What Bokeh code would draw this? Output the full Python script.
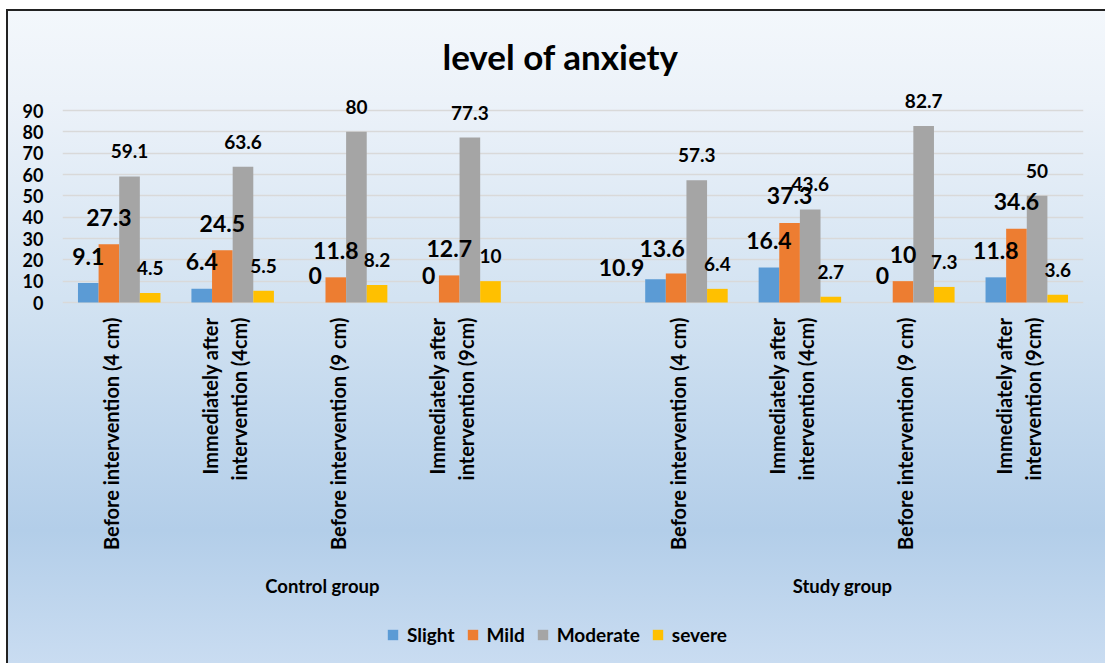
import math
from bokeh.plotting import figure
from bokeh.models import (ColumnDataSource, FactorRange, FixedTicker, Range1d,
                          Legend, LegendItem)
from bokeh.transform import dodge
from bokeh.core.properties import value
from bokeh.embed import file_html
from bokeh.resources import INLINE

# ---------------- data ----------------
title = "level of anxiety"
groups = ["Control group", "Study group"]
phases = [
    "Before intervention (4 cm)",
    "Immediately after\nintervention (4cm)",
    "Before intervention (9 cm)",
    "Immediately after\nintervention (9cm)",
]
series_names = ["Slight", "Mild", "Moderate", "severe"]
slight = [9.1, 6.4, 0, 0, 10.9, 16.4, 0, 11.8]
mild = [27.3, 24.5, 11.8, 12.7, 13.6, 37.3, 10, 34.6]
moderate = [59.1, 63.6, 80, 77.3, 57.3, 43.6, 82.7, 50]
severe = [4.5, 5.5, 8.2, 10, 6.4, 2.7, 7.3, 3.6]
y_ticks = [0, 10, 20, 30, 40, 50, 60, 70, 80, 90]

# ---------------- style / layout ----------------
colors = ["#5B9BD5", "#ED7D31", "#A5A5A5", "#FFC000"]
label_sizes = ["23px", "23px", "19px", "19px"]
label_lift = [-27, -27, -25, -25]
# hand-moved data labels in the original: (series, index) -> (dx, dy) px
label_nudges = {("Slight", 4): (-34, 15), ("Mild", 4): (-14, 2)}
FONT = value("Lato")
TEXT_COLOR = "#000000"

W, H = 1105, 663
PAGE = 0
FRAME_L, FRAME_R = 62, 1083
FRAME_T, FRAME_B = 12, 663
ZERO_Y, TOP_Y = 302, 110          # page y of value 0 and of value 90
px_per_unit = (ZERO_Y - TOP_Y) / 90.0
y_start = -(FRAME_B - ZERO_Y) / px_per_unit
y_end = (ZERO_Y - FRAME_T) / px_per_unit
n_slots = 9
slot_px = (FRAME_R - FRAME_L) / n_slots
bar_w = 0.1818
offsets = [-1.5 * bar_w, -0.5 * bar_w, 0.5 * bar_w, 1.5 * bar_w]

factors = [(g, ph) for g in groups for ph in phases]
x_range = FactorRange(*factors, factor_padding=0.0, group_padding=1.0,
                      range_padding=0.0)

p = figure(width=W, height=H, x_range=x_range, y_range=Range1d(y_start, y_end),
           x_axis_location=None, y_axis_location="left",
           min_border_left=FRAME_L - PAGE, min_border_right=PAGE + W - FRAME_R,
           min_border_top=FRAME_T - PAGE, min_border_bottom=PAGE + H - FRAME_B,
           output_backend="svg", toolbar_location=None)

p.background_fill_color = None
p.border_fill_color = None
p.outline_line_color = None
p.styles = {
    "background-image": ("linear-gradient(to bottom, #f4f8fc 0%, #ecf2f9 15%, "
                         "#d3e3f2 45%, #b3cee9 80%, #c9dcf1 100%)"),
    "box-shadow": "inset 6px 9px 0 0 #ffffff, inset 8px 11px 0 0 #222222",
}

ticker = FixedTicker(ticks=y_ticks)
p.yaxis.ticker = ticker
p.yaxis.axis_line_color = None
p.yaxis.major_tick_line_color = None
p.yaxis.minor_tick_line_color = None
p.yaxis.major_tick_in = 0
p.yaxis.major_tick_out = 0
p.yaxis.major_label_standoff = 19
p.yaxis.major_label_text_font = "Lato"
p.yaxis.major_label_text_font_style = "bold"
p.yaxis.major_label_text_font_size = "18px"
p.yaxis.major_label_text_color = TEXT_COLOR
p.ygrid.ticker = ticker
p.ygrid.grid_line_color = "#d9d9d9"
p.ygrid.grid_line_width = 1.5
p.xgrid.grid_line_color = None

series_values = {"Slight": slight, "Mild": mild, "Moderate": moderate, "severe": severe}
data = dict(x=factors, phase=[ph for g in groups for ph in phases])
for name, vals in series_values.items():
    data[name] = vals
    data[name + "_lbl"] = [f"{v:g}" for v in vals]
    data[name + "_dx"] = [label_nudges.get((name, k), (0, 0))[0] for k in range(len(vals))]
    data[name + "_dy"] = [label_nudges.get((name, k), (0, 0))[1] for k in range(len(vals))]
src = ColumnDataSource(data)

items = []
for i, name in enumerate(series_names):
    r = p.vbar(x=dodge("x", offsets[i], range=p.x_range), top=name, bottom=0,
               width=bar_w, source=src, fill_color=colors[i], line_color=None)
    items.append(LegendItem(label=name, renderers=[r]))
for i, name in enumerate(series_names):
    src.data[name + "_oy"] = [label_lift[i] + d for d in src.data[name + "_dy"]]
    p.text(x=dodge("x", offsets[i], range=p.x_range), y=name, text=name + "_lbl",
           source=src, text_align="center", text_baseline="middle",
           x_offset=name + "_dx", y_offset=name + "_oy",
           text_font=FONT, text_font_style="bold",
           text_font_size=label_sizes[i], text_color=TEXT_COLOR)

# category labels (rotated)
p.text(x="x", y=0, text="phase", source=src, angle=math.pi / 2,
       text_align="right", text_baseline="middle", x_offset=-8, y_offset=15,
       text_font=FONT, text_font_style="bold", text_font_size="20px",
       text_line_height=1.2, text_color=TEXT_COLOR)

# group labels
gsrc = ColumnDataSource(dict(x=groups, text=groups, dx=[33, -14]))
p.text(x="x", y=0, text="text", source=gsrc, x_offset="dx", y_offset=283,
       text_align="center", text_baseline="middle", text_font=FONT,
       text_font_style="bold", text_font_size="18.5px", text_color=TEXT_COLOR)

# title
p.text(x=[(560 - FRAME_L) / slot_px], y=[(ZERO_Y - 55) / px_per_unit], text=[title],
       text_align="center", text_baseline="middle", text_font=FONT,
       text_font_style="bold", text_font_size="35px", text_color=TEXT_COLOR)

legend = Legend(items=items, location=(324, 17), orientation="horizontal",
                glyph_width=13, glyph_height=13, label_standoff=8, spacing=11,
                padding=0, margin=0, border_line_color=None,
                background_fill_alpha=0, label_text_font="Lato",
                label_text_font_style="bold", label_text_font_size="19px",
                label_text_color=TEXT_COLOR)
p.add_layout(legend)

open("out.html", "w").write(file_html(p, INLINE))
